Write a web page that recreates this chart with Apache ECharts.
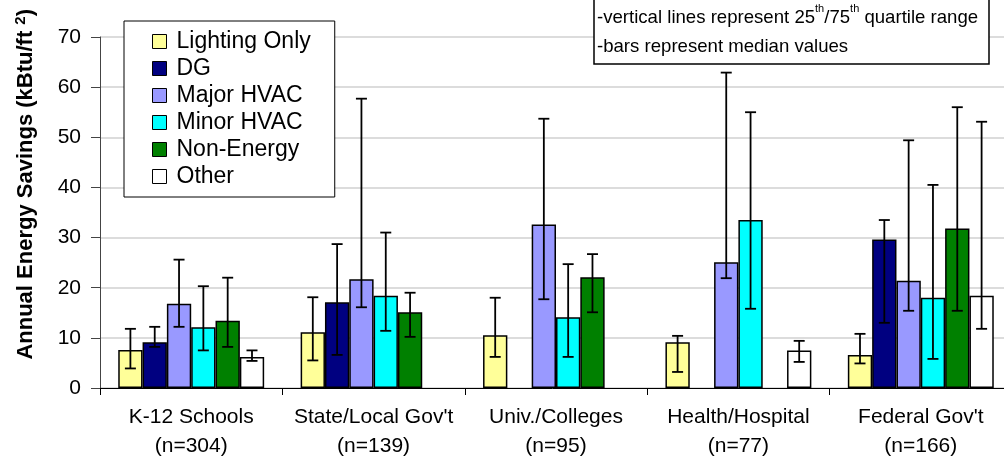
<!DOCTYPE html>
<html>
<head>
<meta charset="utf-8">
<script src="https://cdn.jsdelivr.net/npm/echarts@6/dist/echarts.min.js"></script>
<style>
  html, body { margin: 0; padding: 0; background: #fff; }
  #chart { width: 1004px; height: 460px; }
</style>
</head>
<body>
<div id="chart"></div>
<script>
const categories = ['K-12 Schools\n(n=304)', 'State/Local Gov\'t\n(n=139)', 'Univ./Colleges\n(n=95)', 'Health/Hospital\n(n=77)', 'Federal Gov\'t\n(n=166)'];
const seriesNames = ['Lighting Only', 'DG', 'Major HVAC', 'Minor HVAC', 'Non-Energy', 'Other'];
const seriesColors = ['#FFFF99', '#000080', '#9999FF', '#00FFFF', '#008000', '#FFFFFF'];

// medians
const lighting = [7.6, 11.1, 10.5, 9.1, 6.6];
const dg = [9.1, 17.1, null, null, 29.6];
const majorHvac = [16.8, 21.7, 32.6, 25.1, 21.4];
const minorHvac = [12.1, 18.4, 14.1, 33.5, 18.0];
const nonEnergy = [13.4, 15.1, 22.1, null, 31.8];
const other = [6.2, null, null, 7.5, 18.4];

// 25th / 75th quartiles
const lightingLow = [3.9, 5.5, 6.2, 3.2, 4.9];
const lightingHigh = [11.8, 18.1, 18.0, 10.4, 10.8];
const dgLow = [8.2, 6.6, null, null, 13.0];
const dgHigh = [12.2, 28.7, null, null, 33.5];
const majorLow = [12.2, 16.1, 17.7, 21.9, 15.4];
const majorHigh = [25.6, 57.7, 53.7, 62.9, 49.4];
const minorLow = [7.5, 11.4, 6.2, 15.8, 5.8];
const minorHigh = [20.3, 31.0, 24.7, 55.0, 40.5];
const nonLow = [8.2, 10.2, 15.1, null, 15.4];
const nonHigh = [22.0, 19.0, 26.7, null, 56.0];
const otherLow = [5.4, null, null, 5.2, 11.8];
const otherHigh = [7.5, null, null, 9.4, 53.1];

const medians = [lighting, dg, majorHvac, minorHvac, nonEnergy, other];
const lows = [lightingLow, dgLow, majorLow, minorLow, nonLow, otherLow];
const highs = [lightingHigh, dgHigh, majorHigh, minorHigh, nonHigh, otherHigh];

const FONT = '"Liberation Sans", Arial, sans-serif';
const nBars = seriesNames.length;
const catGap = 0.2;

// error bar data: [category, low, high, series index]
let errData = [];
lows.forEach((arr, s) => {
  arr.forEach((lo, c) => {
    if (lo != null && highs[s][c] != null) errData.push([c, lo, highs[s][c], s]);
  });
});

let myChart = echarts.init(document.getElementById('chart'));

let barSeries = seriesNames.map((name, i) => ({
  name: name,
  type: 'bar',
  data: medians[i],
  barGap: 0,
  barCategoryGap: '20%',
  itemStyle: { color: seriesColors[i], borderColor: '#000', borderWidth: 1.5 },
  emphasis: { disabled: true },
}));

let option = {
  animation: false,
  textStyle: { fontFamily: FONT },
  // plot runs a little past the right edge of the picture
  grid: { left: 100, top: 37, height: 351, width: 912, outerBoundsMode: 'none' },
  legend: {
    orient: 'vertical',
    left: 124,
    top: 21,
    data: seriesNames,
    itemWidth: 14,
    itemHeight: 14,
    itemGap: 4,
    padding: [9, 24, 9, 28],
    borderColor: '#000',
    borderWidth: 1,
    backgroundColor: '#fff',
    icon: 'rect',
    itemStyle: { borderColor: '#000', borderWidth: 1 },
    textStyle: { fontSize: 23, color: '#000', fontFamily: FONT, padding: [0, 0, 0, 5] },
    selectedMode: false,
  },
  xAxis: {
    type: 'category',
    data: categories,
    axisLine: { lineStyle: { color: '#000', width: 1 } },
    axisTick: { show: true, length: 7, lineStyle: { color: '#000' } },
    axisLabel: { interval: 0, fontSize: 21, color: '#000', lineHeight: 29, margin: 15 },
  },
  yAxis: {
    type: 'value',
    min: 0,
    max: 70,
    interval: 10,
    axisLine: { show: true, lineStyle: { color: '#444', width: 1 } },
    axisTick: { show: true, length: 9, lineStyle: { color: '#444' } },
    axisLabel: { fontSize: 21, color: '#000', margin: 19 },
    splitLine: { lineStyle: { color: '#d0d0d0', width: 1.5 } },
  },
  graphic: [
    {
      type: 'text',
      left: 13,
      top: 9,
      rotation: Math.PI / 2,
      style: {
        text: '{t|Annual Energy Savings (kBtu/ft }{s|2}{t|)}',
        rich: {
          t: { fontSize: 22, fontWeight: 'bold', fontFamily: FONT, fill: '#000' },
          s: { fontSize: 15, fontWeight: 'bold', fontFamily: FONT, fill: '#000', verticalAlign: 'top', padding: [0, 0, 10, 0] },
        },
      },
    },
    {
      type: 'rect',
      shape: { x: 594, y: -2, width: 395, height: 66 },
      style: { fill: '#fff', stroke: '#000', lineWidth: 1.5 },
      z: 100,
    },
    {
      type: 'text',
      x: 597,
      y: 3,
      z: 101,
      style: {
        text: '{t|-vertical lines represent 25}{s|th}{t|/75}{s|th}{t| quartile range}\n{t|-bars represent median values}',
        rich: {
          t: { fontSize: 18.6, fontFamily: FONT, fill: '#000', lineHeight: 29 },
          s: { fontSize: 11, fontFamily: FONT, fill: '#000', verticalAlign: 'top', lineHeight: 24 },
        },
      },
    },
  ],
  series: barSeries.concat([
    {
      name: 'quartiles',
      type: 'custom',
      data: errData,
      encode: { x: 0, y: [1, 2] },
      z: 10,
      renderItem(params, api) {
        const c = api.value(0);
        const s = api.value(3);
        const band = api.size([1, 0])[0];
        const bw = band * (1 - catGap) / nBars;
        const center = api.coord([c, 0])[0];
        const x = center + (s - (nBars - 1) / 2) * bw;
        const lo = api.coord([c, api.value(1)])[1];
        const hi = api.coord([c, api.value(2)])[1];
        const cap = 5.5;
        const st = { stroke: '#000', lineWidth: 1.8 };
        return {
          type: 'group',
          children: [
            { type: 'line', shape: { x1: x, y1: lo, x2: x, y2: hi }, style: st },
            { type: 'line', shape: { x1: x - cap, y1: hi, x2: x + cap, y2: hi }, style: st },
            { type: 'line', shape: { x1: x - cap, y1: lo, x2: x + cap, y2: lo }, style: st },
          ],
        };
      },
    },
  ]),
};
myChart.setOption(option);
</script>
</body>
</html>
